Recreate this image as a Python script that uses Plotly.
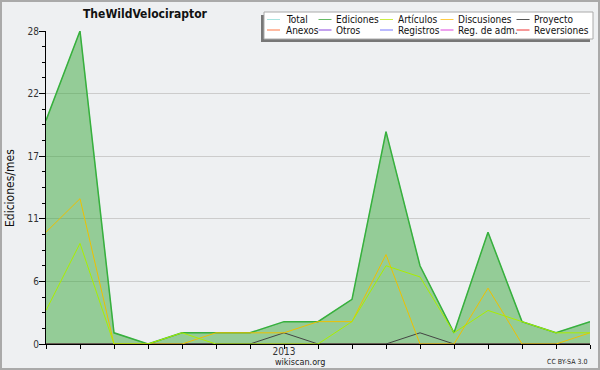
import plotly.graph_objects as go

months = list(range(17))  # Jun 2012 .. Oct 2013
tick_labels = ["", "", "", "", "", "", "", "2013", "", "", "", "", "", "", "", "", ""]

total =       [20, 28, 1, 0, 1, 1, 1, 2, 2, 4, 19, 7, 1, 10, 2, 1, 2]
ediciones =   [20, 28, 1, 0, 1, 1, 1, 2, 2, 4, 19, 7, 1, 10, 2, 1, 2]
articulos =   [3, 9, 0, 0, 1, 0, 0, 0, 0, 2, 7, 6, 1, 3, 2, 1, 1]
discusiones = [10, 13, 0, 0, 0, 1, 1, 1, 2, 2, 8, 0, 0, 5, 0, 0, 1]
proyecto =    [0, 0, 0, 0, 0, 0, 0, 1, 0, 0, 0, 1, 0, 0, 0, 0, 0]
anexos =      [0] * 17
otros =       [0] * 17
registros =   [0] * 17
reg_adm =     [0] * 17
reversiones = [0] * 17

y_tickvals = [0, 5.6, 11.2, 16.8, 22.4, 28]
y_ticktext = ["0", "6", "11", "17", "22", "28"]
y_minor = [1.4, 2.8, 4.2, 7.0, 8.4, 9.8, 12.6, 14.0, 15.4, 18.2, 19.6, 21.0, 23.8, 25.2, 26.6]

legend_names = ["Total", "Ediciones", "Artículos", "Discusiones", "Proyecto",
                "Anexos", "Otros", "Registros", "Reg. de adm.", "Reversiones"]
legend_colors = ["#a8e4e0", "#66bb66", "#ccee44", "#ffcc44", "#555555",
                 "#ff7744", "#8844dd", "#7777ff", "#dd44dd", "#ee3333"]

W, H = 600, 370
L, R, T, B = 46, 10, 31, 26
PW, PH = W - L - R, H - T - B


def px(x):
    return (x - L) / PW


def py(y):
    return (H - B - y) / PH


fig = go.Figure()

zero_series = [(anexos, "#ff7744"), (otros, "#8844dd"), (registros, "#7777ff"),
               (reg_adm, "#dd44dd"), (reversiones, "#ee3333")]
for vals, col in zero_series:
    fig.add_trace(go.Scatter(x=months, y=vals, mode="lines",
                             line=dict(color=col, width=1), showlegend=False))

fig.add_trace(go.Scatter(x=months, y=total, mode="lines",
                         line=dict(color="#a8e4e0", width=1), showlegend=False))
fig.add_trace(go.Scatter(x=months, y=ediciones, mode="lines", fill="tozeroy",
                         fillcolor="rgba(58,168,60,0.5)",
                         line=dict(color="#38b03c", width=1.5), showlegend=False))
fig.add_trace(go.Scatter(x=months, y=proyecto, mode="lines",
                         line=dict(color="#444444", width=1), showlegend=False))
fig.add_trace(go.Scatter(x=months, y=discusiones, mode="lines",
                         line=dict(color="#eec000", width=1), showlegend=False))
fig.add_trace(go.Scatter(x=months, y=articulos, mode="lines",
                         line=dict(color="#aaee00", width=1), showlegend=False))

bg = "#eef0f2"
font_family = "DejaVu Sans Condensed, DejaVu Sans"

shapes = []
annotations = []

# outer border
shapes.append(dict(type="rect", xref="paper", yref="paper",
                   x0=px(1), x1=px(W - 1), y0=py(H - 1), y1=py(1),
                   line=dict(color="#aaaaaa", width=2), fillcolor="rgba(0,0,0,0)", layer="above"))

# legend shadow + box
shapes.append(dict(type="rect", xref="paper", yref="paper",
                   x0=px(261), x1=px(590), y0=py(42), y1=py(15),
                   line=dict(width=0), fillcolor="#777777", layer="above"))
shapes.append(dict(type="rect", xref="paper", yref="paper",
                   x0=px(264), x1=px(593), y0=py(39), y1=py(12),
                   line=dict(color="#aaaaaa", width=1), fillcolor="#ffffff", layer="above"))

col_line_x = [267, 318.5, 380, 440.5, 516.5]
col_text_x = [284, 334, 395.5, 456, 532]
row_y = [19.5, 30]
for i, (name, col) in enumerate(zip(legend_names, legend_colors)):
    r, c = divmod(i, 5)
    shapes.append(dict(type="line", xref="paper", yref="paper",
                       x0=px(col_line_x[c]), x1=px(col_line_x[c] + 13),
                       y0=py(row_y[r]), y1=py(row_y[r]),
                       line=dict(color=col, width=1), layer="above"))
    annotations.append(dict(text=name, xref="paper", yref="paper",
                            x=px(col_text_x[c]), y=py(row_y[r]),
                            xanchor="left", yanchor="middle", showarrow=False,
                            font=dict(family=font_family, size=10, color="#111111")))

annotations.append(dict(text="<b>TheWildVelociraptor</b>", xref="paper", yref="paper",
                        x=px(145), y=py(14), xanchor="center", yanchor="middle",
                        showarrow=False, font=dict(family=font_family, size=12, color="#111111")))
annotations.append(dict(text="Ediciones/mes", xref="paper", yref="paper",
                        x=px(10), y=py(188), xanchor="center", yanchor="middle",
                        textangle=-90, showarrow=False,
                        font=dict(family=font_family, size=12, color="#111111")))
annotations.append(dict(text="wikiscan.org", xref="paper", yref="paper",
                        x=px(300), y=py(362), xanchor="center", yanchor="middle",
                        showarrow=False, font=dict(family=font_family, size=9, color="#222222")))
annotations.append(dict(text="CC BY-SA 3.0", xref="paper", yref="paper",
                        x=px(589), y=py(362), xanchor="right", yanchor="middle",
                        showarrow=False, font=dict(family=font_family, size=7, color="#222222")))

fig.update_layout(
    width=W, height=H,
    margin=dict(l=L, r=R, t=T, b=B, autoexpand=False),
    paper_bgcolor=bg, plot_bgcolor=bg,
    showlegend=False,
    shapes=shapes, annotations=annotations,
    font=dict(family=font_family, size=10, color="#333333"),
    xaxis=dict(range=[0, 16], tickmode="array", tickvals=months, ticktext=tick_labels,
               ticks="outside", ticklen=4, tickcolor="#000000", showgrid=False,
               showline=True, linecolor="#000000", linewidth=1, zeroline=False,
               automargin=False, ticklabelstandoff=-6,
               tickfont=dict(size=10, color="#333333"), fixedrange=True),
    yaxis=dict(range=[0, 28], tickmode="array", tickvals=y_tickvals, ticktext=y_ticktext,
               ticks="outside", ticklen=6, tickcolor="#000000",
               showgrid=True, gridcolor="#cccccc", gridwidth=1,
               showline=True, linecolor="#000000", linewidth=1, zeroline=False,
               automargin=False, ticklabelstandoff=-2,
               minor=dict(tickvals=y_minor, ticks="outside", ticklen=3, tickcolor="#000000", showgrid=False),
               tickfont=dict(size=10, color="#333333"), fixedrange=True),
)

fig.write_html("out.html", config={"displayModeBar": False},
               post_script="document.body.style.margin='0';document.body.style.padding='0';"
                           "document.documentElement.style.overflow='hidden';")
